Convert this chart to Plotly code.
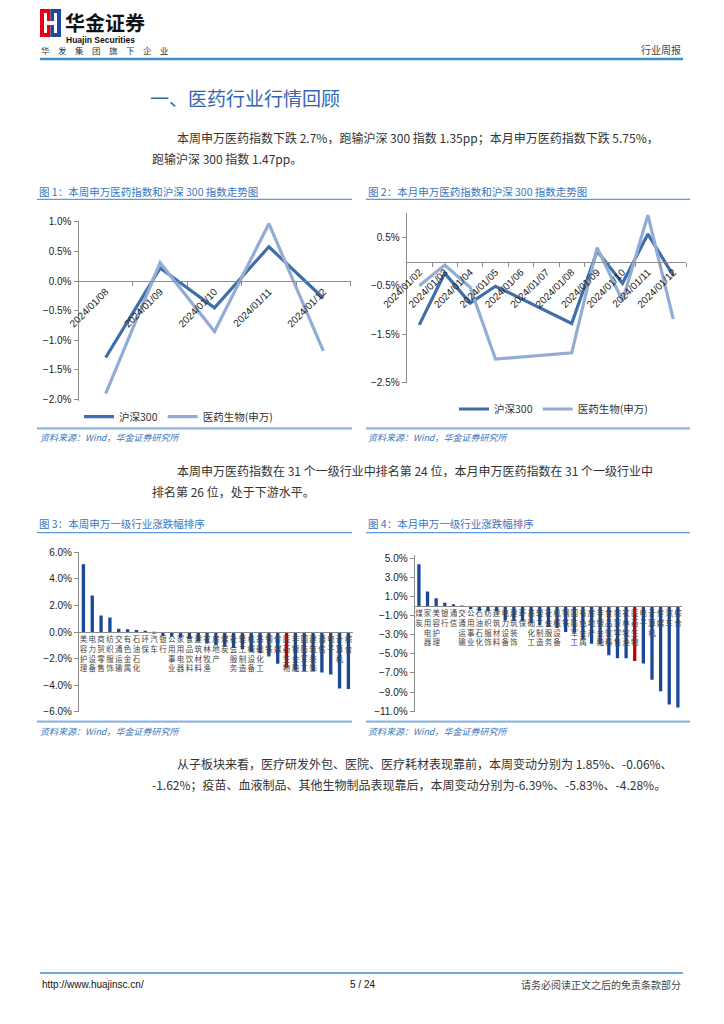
import plotly.graph_objects as go

# page is drawn with the browser's 8px body margin, so the figure covers x 8..716, y 8..1016
OFF = 8
W, H = 708, 1008
def px(x): return (x - OFF) / W
def py(y): return 1 - (y - OFF) / H

FONT = "Liberation Sans, Arial, Noto Sans CJK SC"
CJK = "Noto Sans CJK SC, Liberation Sans"

# ---------------- data ----------------
week_dates = ["2024/01/08", "2024/01/09", "2024/01/10", "2024/01/11", "2024/01/12"]
week_hs300 = [-1.29, 0.22, -0.45, 0.58, -0.29]
week_pharma = [-1.90, 0.31, -0.85, 0.97, -1.18]

month_dates = ["2024/01/02", "2024/01/03", "2024/01/04", "2024/01/05", "2024/01/06",
               "2024/01/07", "2024/01/08", "2024/01/09", "2024/01/10", "2024/01/11", "2024/01/12"]
month_hs300 = [-1.31, -0.24, -0.86, -0.51, None, None, -1.28, 0.22, -0.45, 0.57, -0.29]
month_pharma = [-0.50, -0.07, -0.53, -2.02, None, None, -1.89, 0.29, -0.81, 0.96, -1.19]

series_names = ["沪深300", "医药生物(申万)"]

week_ind = ["美容护理", "电力设备", "商贸零售", "纺织服饰", "交通运输", "有色金属", "石油石化",
            "环保", "汽车", "银行", "公用事业", "家用电器", "食品饮料", "建筑材料", "农林牧渔",
            "房地产", "煤炭", "社会服务", "轻工制造", "机械设备", "基础化工", "钢铁", "传媒",
            "医药生物", "非银金融", "国防军工", "建筑装饰", "通信", "电子", "计算机", "综合"]
week_chg = [5.10, 2.75, 1.25, 1.10, 0.25, 0.20, 0.15, 0.03, -0.12, -0.30, -0.36, -0.42,
            -0.55, -0.72, -0.86, -1.00, -1.10, -1.20, -1.30, -1.50, -1.60, -1.85, -2.40,
            -2.70, -2.90, -2.95, -2.97, -3.05, -3.20, -4.25, -4.30]

month_ind = ["煤炭", "家用电器", "美容护理", "银行", "通信", "交通运输", "公用事业", "石油石化",
             "纺织服饰", "建筑材料", "电力设备", "建筑装饰", "环保", "基础化工", "轻工制造",
             "社会服务", "机械设备", "钢铁", "国防军工", "有色金属", "房地产", "非银金融",
             "食品饮料", "商贸零售", "农林牧渔", "医药生物", "电子", "计算机", "传媒", "汽车", "综合"]
month_chg = [4.37, 1.52, 0.83, 0.34, 0.20, 0.05, -0.32, -0.53, -0.55, -0.55, -1.50, -1.55,
             -1.55, -1.80, -2.00, -2.20, -2.30, -2.70, -2.80, -3.50, -3.95, -4.00, -5.15,
             -5.45, -5.45, -5.75, -6.00, -7.70, -8.90, -10.30, -10.60]

highlight = "医药生物"

DARK = "#3f6ea8"
LIGHT = "#93acd6"
NAVY = "#1a4896"
RED = "#c00000"
AXIS = "#8c8c8c"
BLUE_TXT = "#3a76bd"
BODY = "#333333"

fig = go.Figure()

# ---------------- geometry (pixels) ----------------
f1_x = (78.5, 350.5); f1_y = (400.7, 220.7); f1_r = (-2.02, 1.02)
f2_x = (406.6, 686.0); f2_y = (383.3, 213.3); f2_r = (-2.52, 1.0)
f3_x = (79.0, 352.8); f3_y = (712.3, 551.7); f3_r = (-6.05, 6.05)
f4_x = (414.6, 682.2); f4_y = (711.7, 555.4); f4_r = (-11.05, 5.3)

def dom_x(a): return [px(a[0]), px(a[1])]
def dom_y(a): return [py(a[0]), py(a[1])]
def zero_pos(ydom, r):
    d0, d1 = py(ydom[0]), py(ydom[1])
    return d0 + (0 - r[0]) / (r[1] - r[0]) * (d1 - d0)

# ---------------- traces ----------------
fig.add_trace(go.Scatter(x=week_dates, y=week_hs300, mode="lines", name=series_names[0],
                         line=dict(color=DARK, width=3.2), xaxis="x", yaxis="y", legend="legend"))
fig.add_trace(go.Scatter(x=week_dates, y=week_pharma, mode="lines", name=series_names[1],
                         line=dict(color=LIGHT, width=3.2), xaxis="x", yaxis="y", legend="legend"))

fig.add_trace(go.Scatter(x=month_dates, y=month_hs300, mode="lines", name=series_names[0],
                         connectgaps=True, line=dict(color=DARK, width=3.2),
                         xaxis="x2", yaxis="y2", legend="legend2"))
fig.add_trace(go.Scatter(x=month_dates, y=month_pharma, mode="lines", name=series_names[1],
                         connectgaps=True, line=dict(color=LIGHT, width=3.2),
                         xaxis="x2", yaxis="y2", legend="legend2"))

fig.add_trace(go.Bar(x=week_ind, y=week_chg, showlegend=False,
                     marker=dict(color=[RED if n == highlight else NAVY for n in week_ind], line=dict(width=0)),
                     xaxis="x3", yaxis="y3"))
fig.add_trace(go.Bar(x=month_ind, y=month_chg, showlegend=False,
                     marker=dict(color=[RED if n == highlight else NAVY for n in month_ind], line=dict(width=0)),
                     xaxis="x4", yaxis="y4"))

tickfont = dict(family=FONT, size=10, color="#222")

def line_xaxis(dom, ydom, r, cats):
    return dict(domain=dom_x(dom), anchor="free", position=zero_pos(ydom, r),
                type="category", range=[-0.5, len(cats) - 0.5], showline=True, linecolor=AXIS,
                linewidth=1, ticks="outside", ticklen=4, tickcolor=AXIS, tickson="boundaries",
                tickangle=-45, tickmode="linear", tick0=0, dtick=1, tickfont=tickfont,
                showgrid=False, zeroline=False, automargin=False, fixedrange=True)

def bar_xaxis(dom, ydom, r, cats):
    return dict(domain=dom_x(dom), anchor="free", position=zero_pos(ydom, r),
                type="category", range=[-0.5, len(cats) - 0.5], showline=True, linecolor=AXIS,
                linewidth=1, ticks="", tickangle=0, tickmode="array", tickvals=cats,
                ticktext=["<br>".join(list(c)) for c in cats],
                tickfont=dict(family=CJK, size=7.5, color="#444"),
                showgrid=False, zeroline=False, automargin=False)

def yaxis(xname, ydom, r, tick0, dtick):
    return dict(domain=dom_y(ydom), anchor=xname, range=list(r), showline=True, linecolor=AXIS,
                linewidth=1, ticks="outside", ticklen=4, tickcolor=AXIS, tickmode="linear",
                tick0=tick0, dtick=dtick, tickformat=".1f", ticksuffix="%", tickfont=tickfont,
                showgrid=False, zeroline=False, automargin=False)

fig.update_layout(
    xaxis=line_xaxis(f1_x, f1_y, f1_r, week_dates),
    yaxis=yaxis("x", f1_y, f1_r, 0, 0.5),
    xaxis2=line_xaxis(f2_x, f2_y, f2_r, month_dates),
    yaxis2=yaxis("x2", f2_y, f2_r, 0.5, 1),
    xaxis3=bar_xaxis(f3_x, f3_y, f3_r, week_ind),
    yaxis3=yaxis("x3", f3_y, f3_r, 0, 2),
    xaxis4=bar_xaxis(f4_x, f4_y, f4_r, month_ind),
    yaxis4=yaxis("x4", f4_y, f4_r, 1, 2),
    bargap=0.62,
)

legend_common = dict(orientation="h", xanchor="left", yanchor="middle",
                     font=dict(family=CJK, size=10.5, color="#333"), bgcolor="rgba(0,0,0,0)",
                     itemwidth=30, borderwidth=0)
fig.update_layout(
    legend=dict(x=px(79), y=py(416.7), **legend_common),
    legend2=dict(x=px(454), y=py(409), **legend_common),
)

# ---------------- page decorations ----------------
shapes = []
def hline(x0, x1, y, color, width):
    shapes.append(dict(type="line", xref="paper", yref="paper", x0=px(x0), x1=px(x1),
                       y0=py(y), y1=py(y), line=dict(color=color, width=width)))
def rect(x0, y0, x1, y1, color):
    shapes.append(dict(type="rect", xref="paper", yref="paper", x0=px(x0), x1=px(x1),
                       y0=py(y1), y1=py(y0), fillcolor=color, line=dict(width=0), layer="above"))

# logo
rect(40, 9, 50.5, 37, "#e60012")
rect(50.5, 9, 61, 37, "#1f4aa0")
rect(44, 13, 47, 33, "#ffffff")
rect(54, 13, 57, 33, "#ffffff")
rect(47, 21, 54, 25, "#ffffff")

hline(40, 683, 59, "#3d8fcf", 2.5)         # header line
hline(40, 683, 973, "#3d8fcf", 1.5)        # footer line

for (x0, x1) in [(37, 352), (366, 690)]:
    hline(x0, x1, 199.3, "#5f9bd8", 1.2)
    hline(x0, x1, 428.3, "#8fb6e2", 2.2)
    hline(x0, x1, 532.7, "#5f9bd8", 1.2)
    hline(x0, x1, 721.7, "#8fb6e2", 2.2)

fig.update_layout(shapes=shapes)

ann = []
def text(x, y, s, size, color="#222", family=CJK, anchor="left", bold=False, italic=False):
    if bold:
        s = "<b>" + s + "</b>"
    if italic:
        s = "<i>" + s + "</i>"
    ann.append(dict(x=px(x), y=py(y), xref="paper", yref="paper", text=s, showarrow=False,
                    xanchor=anchor, yanchor="middle", font=dict(family=family, size=size, color=color)))

text(63, 23, "华金证券", 20, "#111", bold=True)
text(64, 39.5, "Huajin Securities", 8.5, "#111", family=FONT, bold=True)
text(39, 50.5, "华　发　集　团　旗　下　企　业", 8.5, "#333")
text(683, 50, "行业周报", 10, "#444", anchor="right")

text(148, 97, "一、医药行业行情回顾", 19, "#3466b0")

text(175, 137.5, "本周申万医药指数下跌 2.7%，跑输沪深 300 指数 1.35pp；本月申万医药指数下跌 5.75%，", 12, BODY)
text(150, 158.5, "跑输沪深 300 指数 1.47pp。", 12, BODY)

text(37, 191, "图 1：本周申万医药指数和沪深 300 指数走势图", 10.5, BLUE_TXT)
text(366, 191, "图 2：本月申万医药指数和沪深 300 指数走势图", 10.5, BLUE_TXT)
text(38, 437.5, "资料来源：Wind，华金证券研究所", 9, BLUE_TXT, italic=True)
text(366, 437.5, "资料来源：Wind，华金证券研究所", 9, BLUE_TXT, italic=True)

text(175, 470.5, "本周申万医药指数在 31 个一级行业中排名第 24 位，本月申万医药指数在 31 个一级行业中", 12, BODY)
text(150, 491.5, "排名第 26 位，处于下游水平。", 12, BODY)

text(37, 523.5, "图 3：本周申万一级行业涨跌幅排序", 10.5, BLUE_TXT)
text(366, 523.5, "图 4：本月申万一级行业涨跌幅排序", 10.5, BLUE_TXT)
text(38, 731.5, "资料来源：Wind，华金证券研究所", 9, BLUE_TXT, italic=True)
text(366, 731.5, "资料来源：Wind，华金证券研究所", 9, BLUE_TXT, italic=True)

text(175, 763.5, "从子板块来看，医疗研发外包、医院、医疗耗材表现靠前，本周变动分别为 1.85%、-0.06%、", 12, BODY)
text(150, 784.5, "-1.62%；疫苗、血液制品、其他生物制品表现靠后，本周变动分别为-6.39%、-5.83%、-4.28%。", 12, BODY)

text(40, 984, "http://www.huajinsc.cn/", 10, "#111", family=FONT)
text(362, 984, "5 / 24", 10, "#111", family=FONT, anchor="center")
text(683, 984, "请务必阅读正文之后的免责条款部分", 10, "#444", anchor="right")

fig.update_layout(annotations=ann)

fig.update_layout(width=W, height=H, margin=dict(l=0, r=0, t=0, b=0), template="none",
                  paper_bgcolor="white", plot_bgcolor="white",
                  font=dict(family=FONT, color="#222"))

fig.write_html("out.html")
